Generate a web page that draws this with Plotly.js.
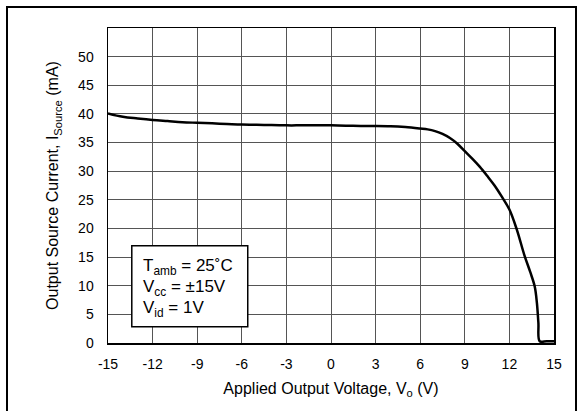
<!DOCTYPE html>
<html>
<head>
<meta charset="utf-8">
<script src="https://cdn.plot.ly/plotly-3.0.1.min.js"></script>
<style>
html,body{margin:0;padding:0;background:#fff;overflow:hidden;}
#frame{position:absolute;left:6px;top:6px;width:571px;height:430px;border:2px solid #000;box-sizing:border-box;pointer-events:none;z-index:5;}
#chart{position:absolute;left:0;top:0;width:584px;height:411px;}
</style>
</head>
<body>
<div id="chart"></div>
<div id="frame"></div>
<script>
// Applied output voltage (V)
const voltage = [-15, -14, -13, -12, -11, -10, -9, -8, -7, -6, -5, -4, -3, -2, -1, 0, 1, 2, 3, 4, 5, 6, 6.5, 7, 7.5, 8, 8.5, 9, 9.5, 10, 10.5, 11, 11.5, 12, 12.5, 13, 13.4, 13.7, 13.85, 13.95, 14.04, 14.5, 15];
// Output source current (mA)
const current = [40.1, 39.5, 39.2, 38.95, 38.75, 38.55, 38.45, 38.35, 38.25, 38.15, 38.1, 38.05, 38.0, 38.0, 38.0, 38.0, 37.95, 37.9, 37.9, 37.85, 37.7, 37.45, 37.3, 37.0, 36.5, 35.8, 34.8, 33.5, 32.2, 30.8, 29.2, 27.5, 25.5, 23.3, 19.8, 15.4, 12.4, 9.9, 7.0, 3.5, 0.3, 0.3, 0.3];

const xTickVals = [-15, -12, -9, -6, -3, 0, 3, 6, 9, 12, 15];
const xTickText = ["-15", "-12", "-9", "-6", "-3", "0", "3", "6", "9", "12", "15"];
const yTickVals = [0, 5, 10, 15, 20, 25, 30, 35, 40, 45, 50, 55];
const yTickText = ["0", "5", "10", "15", "20", "25", "30", "35", "40", "45", "50", ""];

const conditions = ["T<sub>amb</sub> = 25˚C", "V<sub>cc</sub> = ±15V", "V<sub>id</sub> = 1V"];

const font = "Liberation Sans, Arial, Helvetica, sans-serif";

const trace = {
  x: voltage, y: current, type: "scatter", mode: "lines",
  line: {color: "#000", width: 2.5, shape: "spline", smoothing: 1.0},
  hoverinfo: "skip", showlegend: false
};

const layout = {
  width: 584, height: 411,
  margin: {l: 108, r: 30, t: 28, b: 68},
  paper_bgcolor: "#fff", plot_bgcolor: "#fff",
  font: {family: font, color: "#000", size: 14},
  xaxis: {
    range: [-15, 15], tickvals: xTickVals, ticktext: xTickText,
    showgrid: true, gridcolor: "#555", gridwidth: 1,
    showline: true, linecolor: "#000", linewidth: 1.5, mirror: true,
    zeroline: false, ticks: "outside", ticklen: 8, tickcolor: "rgba(0,0,0,0)",
    tickfont: {family: font, size: 14, color: "#000"},
    title: {text: "Applied Output Voltage, V<sub>o</sub> (V)", font: {family: font, size: 16, color: "#000"}, standoff: 11}
  },
  yaxis: {
    range: [0, 55], tickvals: yTickVals, ticktext: yTickText,
    showgrid: true, gridcolor: "#555", gridwidth: 1,
    showline: true, linecolor: "#000", linewidth: 1.5, mirror: true,
    zeroline: false, ticks: "outside", ticklen: 10, tickcolor: "rgba(0,0,0,0)",
    tickfont: {family: font, size: 14, color: "#000"},
    title: {text: "Output Source Current, I<sub>Source</sub> (mA)", font: {family: font, size: 16, color: "#000"}, standoff: 15}
  },
  shapes: [{
    type: "rect", xref: "x", yref: "y",
    x0: -13.4, x1: -5.6, y0: 2.85, y1: 17.0,
    line: {color: "#000", width: 1.5}, fillcolor: "#fff", layer: "above"
  }],
  annotations: conditions.map((t, i) => ({
    text: t, xref: "x", yref: "y", x: -12.75, y: 13.2 - i * 3.65,
    xanchor: "left", yanchor: "middle", showarrow: false,
    font: {family: font, size: 17, color: "#000"}
  }))
};

Plotly.newPlot("chart", [trace], layout, {staticPlot: true, displayModeBar: false});
</script>
</body>
</html>
